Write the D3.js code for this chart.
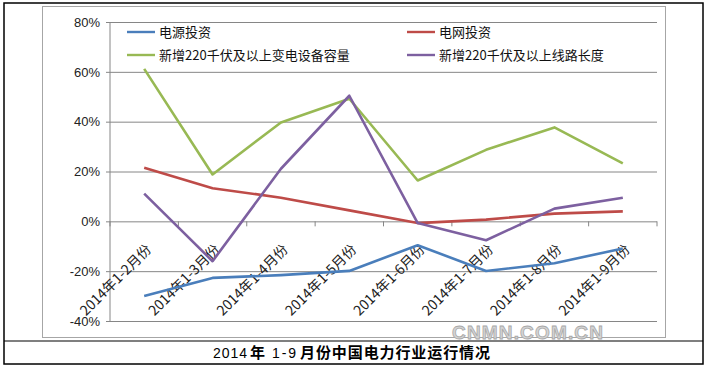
<!DOCTYPE html>
<html>
<head>
<meta charset="utf-8">
<script src="https://cdn.jsdelivr.net/npm/d3@7"></script>
<style>
  body { margin: 0; background: #fff; }
  svg { display: block; }
</style>
</head>
<body>
<div id="chart"></div>
<script>
// categories
const months = ['2014年1-2月份', '2014年1-3月份', '2014年1-4月份', '2014年1-5月份',
                '2014年1-6月份', '2014年1-7月份', '2014年1-8月份', '2014年1-9月份'];

// series values in percent
const powerSource = [-30, -22.7, -21.6, -19.9, -9.6, -19.9, -16.8, -10.9];
const powerGrid   = [21.5, 13.3, 9.5, 4.4, -0.7, 0.7, 3.1, 4.0];
const substation  = [61.2, 18.8, 39.7, 49.2, 16.4, 28.7, 37.7, 23.3];
const lineLength  = [11.1, -16, 21.1, 50.4, -0.7, -7.6, 5.1, 9.5];

const seriesNames = ['电源投资', '电网投资', '新增220千伏及以上变电设备容量', '新增220千伏及以上线路长度'];
const seriesColors = ['#4a7ebb', '#be4b48', '#98b954', '#7d60a0'];
const yTicks = [-40, -20, 0, 20, 40, 60, 80];

const series = [powerSource, powerGrid, substation, lineLength].map((vals, i) => ({
    name: seriesNames[i], color: seriesColors[i], values: vals
}));

const W = 707, H = 371;
const svg = d3.select('#chart').append('svg').attr('width', W).attr('height', H);

// outer frame + caption row
svg.append('rect').attr('x', 4).attr('y', 3).attr('width', 699).attr('height', 361)
    .attr('fill', 'none').attr('stroke', '#000').attr('stroke-width', 1.5);
svg.append('line').attr('x1', 4).attr('x2', 703).attr('y1', 341).attr('y2', 341)
    .attr('stroke', '#000').attr('stroke-width', 1.2);

// chart area border
svg.append('rect').attr('x', 42.5).attr('y', 6.5).attr('width', 623).attr('height', 331)
    .attr('fill', '#fff').attr('stroke', '#a6a6a6');

const pLeft = 110, pRight = 657, pTop = 22, pBottom = 321;

const x = d3.scaleBand().domain(months).range([pLeft, pRight]);
const y = d3.scaleLinear().domain([-40, 80]).range([pBottom, pTop]);

const g = svg.append('g');

// gridlines with y axis ticks
g.append('g')
    .attr('transform', `translate(${pLeft},0)`)
    .call(d3.axisLeft(y).tickValues(yTicks).tickSize(-(pRight - pLeft)).tickPadding(10)
        .tickFormat(d => d + '%'))
    .call(a => a.select('.domain').remove())
    .call(a => a.selectAll('.tick line').attr('stroke', '#868686').attr('x1', -4))
    .call(a => a.selectAll('.tick text')
        .attr('font-family', 'Liberation Sans, Arial, sans-serif')
        .attr('font-size', 13).attr('fill', '#222'));

g.append('line').attr('x1', pLeft).attr('x2', pLeft).attr('y1', pTop).attr('y2', pBottom)
    .attr('stroke', '#868686');

// category axis at 0% with boundary ticks
const bounds = d3.range(months.length + 1).map(i => pLeft + i * x.step());
g.selectAll('.cat-tick').data(bounds).enter().append('line')
    .attr('x1', d => d).attr('x2', d => d)
    .attr('y1', y(0)).attr('y2', y(0) + 5)
    .attr('stroke', '#868686');

// x labels rotated
g.selectAll('.xlab').data(months).enter().append('text')
    .attr('transform', d => `translate(${x(d) + x.bandwidth() / 2 + 8},${y(0) + 29}) rotate(-45)`)
    .attr('text-anchor', 'end')
    .attr('font-family', 'Noto Sans CJK SC, sans-serif')
    .attr('font-size', 14)
    .attr('fill', '#222')
    .text(d => d);

// lines
const line = d3.line()
    .x((d, i) => x(months[i]) + x.bandwidth() / 2)
    .y(d => y(d));

g.selectAll('.series').data(series).enter().append('path')
    .attr('fill', 'none')
    .attr('stroke', d => d.color)
    .attr('stroke-width', 2.6)
    .attr('stroke-linejoin', 'round')
    .attr('d', d => line(d.values));

// legend
const legendPos = [[127, 32], [407, 32], [127, 55], [407, 55]];
const lg = svg.append('g');
series.forEach((s, i) => {
    const [lx, ly] = legendPos[i];
    lg.append('line').attr('x1', lx).attr('x2', lx + 28).attr('y1', ly).attr('y2', ly)
        .attr('stroke', s.color).attr('stroke-width', 2.4);
    lg.append('text').attr('x', lx + 32).attr('y', ly).attr('dy', '0.35em')
        .attr('font-family', 'Noto Sans CJK SC, sans-serif')
        .attr('font-size', 13).attr('fill', '#111')
        .text(s.name);
});

// watermark
svg.append('text').attr('x', 452).attr('y', 339)
    .attr('font-family', 'Liberation Sans, Arial, sans-serif')
    .attr('font-size', 19).attr('font-weight', 'bold')
    .attr('fill', '#d4d4d4').attr('stroke', '#a8a8a8').attr('stroke-width', 0.8)
    .attr('textLength', 151)
    .text('CNMN.COM.CN');

// caption
const cap = [
    {t: '2014', x: 213, w: 34, bold: false},
    {t: '年', x: 250, w: 16, bold: true},
    {t: '1-9', x: 272, w: 24, bold: false},
    {t: '月份中国电力行业运行情况', x: 300, w: 190, bold: true}
];
cap.forEach(c => {
    svg.append('text').attr('x', c.x).attr('y', 358)
        .attr('font-family', c.bold ? 'Noto Sans CJK SC, sans-serif' : 'Liberation Sans, Arial, sans-serif')
        .attr('font-size', c.bold ? 15 : 14)
        .attr('font-weight', c.bold ? 'bold' : 'normal')
        .attr('fill', '#000')
        .attr('textLength', c.w).attr('lengthAdjust', 'spacing')
        .text(c.t);
});
</script>
</body>
</html>
